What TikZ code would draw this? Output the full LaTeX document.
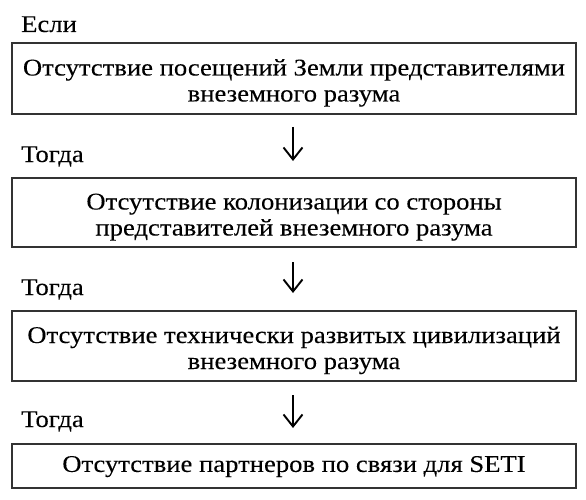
\documentclass[tikz,border=0pt]{standalone}
\usepackage{fontspec}
\setmainfont{Liberation Serif}[FakeStretch=1.11,FakeBold=0.15]
\usetikzlibrary{arrows.meta}
\newcommand\myTopStrut{\rule{0pt}{29pt}}
\newcommand\myBotStrut{\rule[-9pt]{0pt}{9pt}}
\newcommand\myOneStrut{\rule[-5pt]{0pt}{22pt}}
\tikzset{
  stepbox/.style={draw=black!80, line width=1.3pt, minimum width=564pt, inner sep=0pt, outer sep=0pt, align=center, font=\fontsize{24}{26}\selectfont},
  lbl/.style={anchor=base west, inner sep=0pt, font=\fontsize{24}{26}\selectfont},
  arr/.style={draw=black, line width=1.9pt, -{Straight Barb[length=12pt, width=19pt, line width=1.9pt]}}
}
\begin{document}
\begin{tikzpicture}[x=1pt,y=1pt]
\useasboundingbox (0,0) rectangle (586,-500);
\node[lbl] (l0) at (21,-32) {Если};
\node[stepbox, minimum height=71pt] (b1) at (294,-78.5) {\myTopStrut Отсутствие посещений Земли представителями\\внеземного разума\myBotStrut};
\node[lbl] (l1) at (21,-162) {Тогда};
\node[stepbox, minimum height=69pt] (b2) at (294,-212.5) {\myTopStrut Отсутствие колонизации со стороны\\представителей внеземного разума\myBotStrut};
\node[lbl] (l2) at (21,-295) {Тогда};
\node[stepbox, minimum height=70pt] (b3) at (294,-346) {\myTopStrut Отсутствие технически развитых цивилизаций\\внеземного разума\myBotStrut};
\node[lbl] (l3) at (21,-427) {Тогда};
\node[stepbox, minimum height=44pt] (b4) at (294,-466) {\myOneStrut Отсутствие партнеров по связи для SETI};
\draw[arr, shorten <=13pt, shorten >=17pt] (b1.south -| 293,0) -- (b2.north -| 293,0);
\draw[arr, shorten <=15pt, shorten >=18pt] (b2.south -| 293,0) -- (b3.north -| 293,0);
\draw[arr, shorten <=14pt, shorten >=16pt] (b3.south -| 293,0) -- (b4.north -| 293,0);
\end{tikzpicture}
\end{document}
